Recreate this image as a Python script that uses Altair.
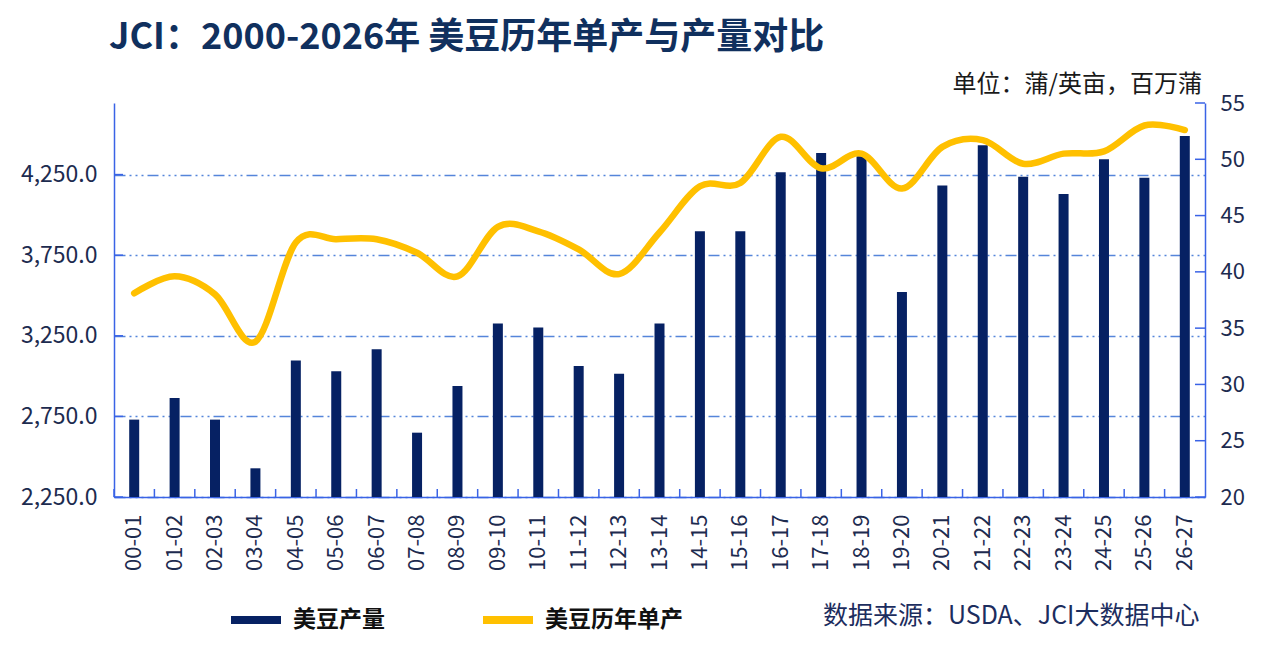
import altair as alt
import pandas as pd

seasons = ["00-01", "01-02", "02-03", "03-04", "04-05", "05-06", "06-07", "07-08", "08-09",
           "09-10", "10-11", "11-12", "12-13", "13-14", "14-15", "15-16", "16-17", "17-18",
           "18-19", "19-20", "20-21", "21-22", "22-23", "23-24", "24-25", "25-26", "26-27"]
production = [2730, 2864, 2730, 2428, 3096, 3030, 3166, 2649, 2939, 3326, 3301, 3063, 3015, 3327,
              3898, 3898, 4264, 4384, 4363, 3522, 4183, 4432, 4237, 4130, 4345, 4231, 4489]
yields = [38.1, 39.6, 38.0, 33.8, 42.6, 42.9, 42.9, 41.7, 39.6, 44.0, 43.6, 42.0, 39.8, 43.5,
          47.6, 47.9, 52.0, 49.2, 50.5, 47.4, 51.1, 51.7, 49.6, 50.5, 50.7, 53.0, 52.6]
series_names = ["美豆产量", "美豆历年单产"]
left_ticks = [2250, 2750, 3250, 3750, 4250]
right_ticks = [20, 25, 30, 35, 40, 45, 50, 55]
title_text = "JCI：2000-2026年 美豆历年单产与产量对比"
unit_text = ["单位：蒲/英亩，百万蒲"]
source_text = ["数据来源：USDA、JCI大数据中心"]

NAVY = "#062163"
GOLD = "#FFC000"
AXIS = "#3a63e6"
GRID = "#5585da"
LABEL = "#1d2b4f"
FONT = "Noto Sans CJK SC"

W, H = 1091, 394

df = pd.DataFrame({"season": seasons, "production": production, "yield": yields,
                   "series": series_names[1]})
lt = pd.DataFrame({"production": left_ticks})
rt = pd.DataFrame({"yield": right_ticks})

xaxis = alt.Axis(title=None, labelAngle=-90, labelFontSize=22, labelColor=LABEL,
                 labelPadding=17, ticks=False, domainColor=AXIS, domainWidth=1.5,
                 labelFont=FONT)
xscale = alt.Scale(paddingInner=0, paddingOuter=0)

left_scale = alt.Scale(domain=[2250, 4694], nice=False, zero=False)
right_scale = alt.Scale(domain=[20, 55], nice=False, zero=False)

left_axis = alt.Axis(orient="left", title=None, values=left_ticks, format=",.1f",
                     labelFontSize=23, labelColor=LABEL, labelPadding=17, labelFont=FONT,
                     ticks=False, domainColor=AXIS, domainWidth=1.5,
                     grid=True, gridColor=GRID, gridWidth=1.3,
                     gridDash=[11, 4, 2, 4, 2, 4, 2, 4])
right_axis = alt.Axis(orient="right", title=None, values=right_ticks,
                      labelFontSize=22, labelColor=LABEL, labelPadding=15, labelFont=FONT,
                      ticks=False, domainColor=AXIS, domainWidth=1.5, grid=False)

bars = alt.Chart(df).mark_bar(size=10, color=NAVY).encode(
    x=alt.X("season:N", sort=seasons, scale=xscale, axis=xaxis),
    y=alt.Y("production:Q", scale=left_scale, axis=left_axis),
    y2=alt.datum(2250),
)

xticks = alt.Chart(df).mark_rule(color=AXIS, strokeWidth=1.5).encode(
    x=alt.X("season:N", sort=seasons, bandPosition=0, scale=xscale, axis=xaxis),
    y=alt.value(H), y2=alt.value(H - 8),
)

lticks = alt.Chart(lt).mark_rule(color=AXIS, strokeWidth=1.5).encode(
    y=alt.Y("production:Q", scale=left_scale, axis=left_axis),
    x=alt.value(0), x2=alt.value(9),
)

line = alt.Chart(df).mark_line(interpolate="cardinal", strokeWidth=6.5, strokeCap="round").encode(
    x=alt.X("season:N", sort=seasons, scale=xscale, axis=xaxis),
    y=alt.Y("yield:Q", scale=right_scale, axis=right_axis),
    color=alt.Color("series:N",
                    scale=alt.Scale(domain=series_names, range=[NAVY, GOLD]),
                    legend=alt.Legend(title=None, orient="none", legendX=113, legendY=488,
                                      direction="horizontal", symbolType="stroke",
                                      symbolStrokeWidth=8, symbolSize=2500,
                                      labelFontSize=23, labelFontWeight="bold",
                                      labelColor="#111111", labelFont=FONT,
                                      labelOffset=8, columnPadding=82)),
)

rticks = alt.Chart(rt).mark_rule(color=AXIS, strokeWidth=1.5).encode(
    y=alt.Y("yield:Q", scale=right_scale, axis=right_axis),
    x=alt.value(W - 10), x2=alt.value(W),
)

unit = alt.Chart(pd.DataFrame({"t": unit_text})).mark_text(
    align="right", baseline="alphabetic", fontSize=24, color="#1a1a1a", font=FONT
).encode(text="t:N", x=alt.value(1088), y=alt.value(-11))

source = alt.Chart(pd.DataFrame({"t": source_text})).mark_text(
    align="left", baseline="middle", fontSize=25, color="#1c2d5e", font=FONT
).encode(text="t:N", x=alt.value(709), y=alt.value(513))

chart = alt.layer(
    alt.layer(bars, xticks, lticks),
    alt.layer(line, rticks),
    unit, source,
).resolve_scale(y="independent").properties(
    width=W, height=H,
    autosize=alt.AutoSizeParams(type="none"),
    padding={"left": 106, "top": 95, "right": 62, "bottom": 150},
    title=alt.TitleParams(title_text, anchor="start", frame="group", dx=-5,
                          fontSize=36, fontWeight="bold", color="#10305e", font=FONT,
                          offset=16),
    background="white",
).configure_view(stroke=None)

chart.save("out.html", embed_options={"renderer": "svg", "actions": False})
